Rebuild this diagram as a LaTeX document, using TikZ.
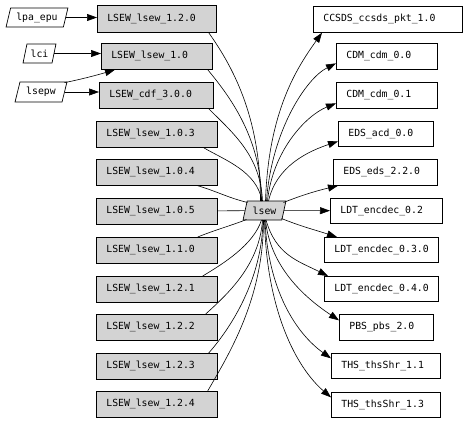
\documentclass[tikz,border=0pt]{standalone}
\usepackage{fontspec}
\newfontfamily\monofam{DejaVu Sans Mono}
\usetikzlibrary{arrows.meta,shapes.geometric,calc}
\definecolor{boxgray}{HTML}{D3D3D3}
\begin{document}
\begin{tikzpicture}[x=1pt,y=-1pt,
  base/.style={draw, line width=0.7pt, font=\monofam\fontsize{9.8}{10}\selectfont,
    inner xsep=10pt, inner ysep=0pt, align=left, anchor=north west},
  gbox/.style={base, fill=boxgray},
  wbox/.style={base, fill=white},
  para/.style={draw, line width=0.7pt, trapezium, trapezium left angle=70,
    trapezium right angle=110, trapezium stretches=true, inner sep=0pt,
    font=\monofam\fontsize{9.8}{10}\selectfont},
  edge/.style={line width=0.6pt},
  arr/.style={edge, -{Triangle[length=10pt,width=7pt]}}]
\useasboundingbox (0,0) rectangle (464,421);
% input parallelograms
\node[para, minimum width=62pt, minimum height=19pt] (lpa) at (37,17.5) {lpa\_epu};
\node[para, minimum width=33pt, minimum height=19pt] (lci) at (39.5,53.5) {lci};
\node[para, minimum width=52pt, minimum height=20pt] (lsepw) at (41,92) {lsepw};
% center
\node[para, fill=boxgray, minimum width=43pt, minimum height=19pt] (lsew) at (264.5,210.5) {lsew};
% left gray boxes
\node[gbox, text width=99pt, minimum height=27pt] (g120) at (97,5) {\mbox{LSEW\_lsew\_1.2.0}};
\node[gbox, text width=91pt, minimum height=26pt] (g10) at (101,43) {\mbox{LSEW\_lsew\_1.0}};
\node[gbox, text width=94pt, minimum height=26pt] (gcdf) at (99,82) {\mbox{LSEW\_cdf\_3.0.0}};
\node[gbox, text width=101pt, minimum height=26pt] (g103) at (96,121) {\mbox{LSEW\_lsew\_1.0.3}};
\node[gbox, text width=101pt, minimum height=26pt] (g104) at (96,159) {\mbox{LSEW\_lsew\_1.0.4}};
\node[gbox, text width=101pt, minimum height=26pt] (g105) at (96,198) {\mbox{LSEW\_lsew\_1.0.5}};
\node[gbox, text width=101pt, minimum height=26pt] (g110) at (96,237) {\mbox{LSEW\_lsew\_1.1.0}};
\node[gbox, text width=101pt, minimum height=26pt] (g121) at (96,276) {\mbox{LSEW\_lsew\_1.2.1}};
\node[gbox, text width=101pt, minimum height=26pt] (g122) at (96,314) {\mbox{LSEW\_lsew\_1.2.2}};
\node[gbox, text width=101pt, minimum height=26pt] (g123) at (96,353) {\mbox{LSEW\_lsew\_1.2.3}};
\node[gbox, text width=101pt, minimum height=26pt] (g124) at (96,391) {\mbox{LSEW\_lsew\_1.2.4}};
% right white boxes
\node[wbox, text width=129pt, minimum height=26pt] (ccsds) at (313,6) {\mbox{CCSDS\_ccsds\_pkt\_1.0}};
\node[wbox, text width=81pt, minimum height=26pt] (cdm00) at (336,43) {\mbox{CDM\_cdm\_0.0}};
\node[wbox, text width=81pt, minimum height=26pt] (cdm01) at (336,82) {\mbox{CDM\_cdm\_0.1}};
\node[wbox, text width=75pt, minimum height=25pt] (acd) at (338,121) {\mbox{EDS\_acd\_0.0}};
\node[wbox, text width=84pt, minimum height=26pt] (eds) at (333,159) {\mbox{EDS\_eds\_2.2.0}};
\node[wbox, text width=92pt, minimum height=25pt] (ldt02) at (330,198) {\mbox{LDT\_encdec\_0.2}};
\node[wbox, text width=94pt, minimum height=25pt] (ldt030) at (324,237) {\mbox{LDT\_encdec\_0.3.0}};
\node[wbox, text width=94pt, minimum height=25pt] (ldt040) at (324,276) {\mbox{LDT\_encdec\_0.4.0}};
\node[wbox, text width=74pt, minimum height=26pt] (pbs) at (339,314) {\mbox{PBS\_pbs\_2.0}};
\node[wbox, text width=89pt, minimum height=25pt] (ths11) at (331,353) {\mbox{THS\_thsShr\_1.1}};
\node[wbox, text width=89pt, minimum height=25pt] (ths13) at (331,392) {\mbox{THS\_thsShr\_1.3}};
% input edges
\draw[arr] (lpa.east) -- (lpa.east -| g120.west);
\draw[arr] (lci.east) -- (lci.east -| g10.west);
\draw[arr] (lsepw.east) -- (lsepw.east -| gcdf.west);
\draw[arr] ($(lsepw.top right corner)+(-3,1)$) .. controls +(15,-3) and +(-20,6) .. ($(g10.south west)+(14,0)$);
% left boxes into lsew
\draw[edge] ($(g120.south east)+(-8,0)$) .. controls +(27,38) and +(0,-80) .. ($(lsew.center)+(-4,-9.5)$);
\draw[edge] ($(g10.south east)+(-5,0)$) .. controls +(25,30) and +(0,-60) .. ($(lsew.center)+(-3,-9.5)$);
\draw[edge] ($(gcdf.south east)+(-5,0)$) .. controls +(25,25) and +(-2,-45) .. ($(lsew.center)+(-2,-9.5)$);
\draw[edge] ($(g103.south east)+(-14,0)$) .. controls +(20,12) and +(-5,-30) .. ($(lsew.center)+(-2.5,-9.5)$);
\draw[edge] ($(g104.south east)+(-20,0)$) .. controls +(20,6) and +(-20,-5) .. ($(lsew.center)+(-17,-8)$);
\draw[edge] (g105) -- (lsew);
\draw[edge] ($(g110.north east)+(-20,0)$) .. controls +(20,-8) and +(-15,6) .. ($(lsew.center)+(-18,9)$);
\draw[edge] ($(g121.north east)+(-15,0)$) .. controls +(20,-12) and +(-8,25) .. ($(lsew.center)+(-3,9.5)$);
\draw[edge] ($(g122.north east)+(-12,0)$) .. controls +(22,-20) and +(-3,45) .. ($(lsew.center)+(-2,9.5)$);
\draw[edge] ($(g123.north east)+(-9,0)$) .. controls +(22,-25) and +(-1,60) .. ($(lsew.center)+(-1.5,9.5)$);
\draw[edge] ($(g124.north east)+(-10,0)$) .. controls +(20,-35) and +(0,80) .. ($(lsew.center)+(-1,9.5)$);
% lsew out to right boxes
\draw[arr] ($(lsew.center)+(1,-9.5)$) .. controls +(3,-90) and +(-25,35) .. ($(ccsds.south west)+(9,0)$);
\draw[arr] ($(lsew.center)+(2,-9.5)$) .. controls +(5,-70) and +(-30,15) .. ($(cdm00.west)+(0,7)$);
\draw[arr] ($(lsew.center)+(3,-9.5)$) .. controls +(5,-50) and +(-30,12) .. ($(cdm01.west)+(0,8)$);
\draw[arr] ($(lsew.center)+(4,-9.5)$) .. controls +(8,-35) and +(-30,10) .. ($(acd.west)+(0,7.5)$);
\draw[arr] ($(lsew.center)+(19,-8)$) .. controls +(15,-6) and +(-25,6) .. ($(eds.south west)+(5,0)$);
\draw[arr] (lsew) -- (ldt02);
\draw[arr] ($(lsew.center)+(17,8)$) .. controls +(20,8) and +(-25,-8) .. ($(ldt030.north west)+(13,0)$);
\draw[arr] ($(lsew.center)+(1.5,9.5)$) .. controls +(10,35) and +(-30,-15) .. ($(ldt040.north west)+(4,0)$);
\draw[arr] ($(lsew.center)+(1,9.5)$) .. controls +(5,50) and +(-30,-20) .. ($(pbs.west)+(0,-7)$);
\draw[arr] ($(lsew.center)+(0.5,9.5)$) .. controls +(3,70) and +(-35,-25) .. ($(ths11.west)+(0,-7.5)$);
\draw[arr] ($(lsew.center)+(0,9.5)$) .. controls +(2,90) and +(-35,-30) .. ($(ths13.west)+(0,-7.5)$);
\end{tikzpicture}
\end{document}
